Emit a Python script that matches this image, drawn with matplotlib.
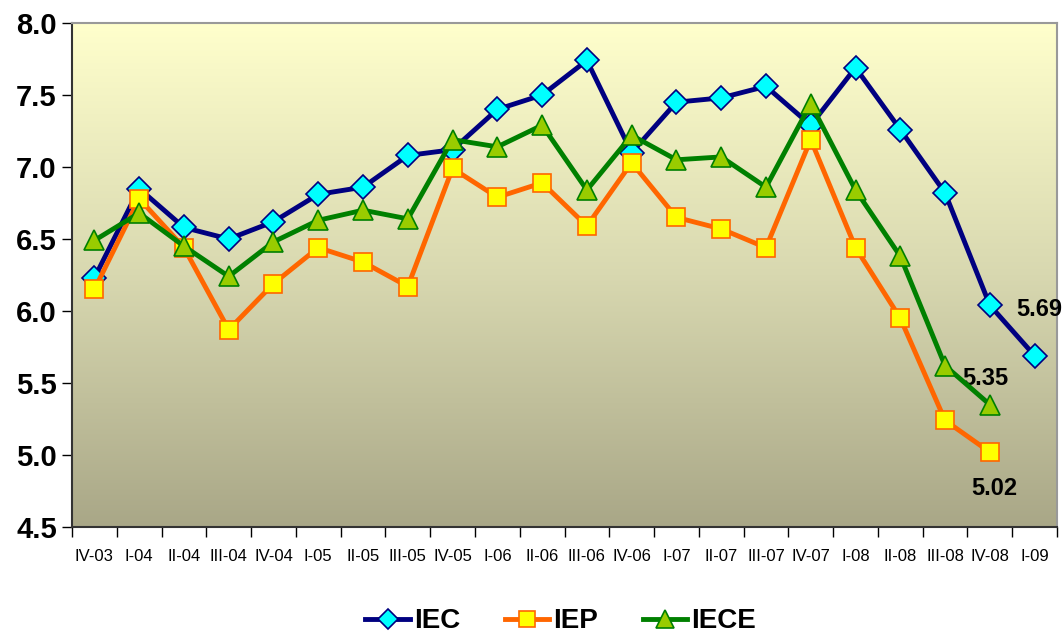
import numpy as np
import matplotlib.pyplot as plt
from matplotlib import font_manager
from matplotlib.colors import LinearSegmentedColormap

# quarters
quarters = ["IV-03", "I-04", "II-04", "III-04", "IV-04", "I-05", "II-05", "III-05",
            "IV-05", "I-06", "II-06", "III-06", "IV-06", "I-07", "II-07", "III-07",
            "IV-07", "I-08", "II-08", "III-08", "IV-08", "I-09"]

iec = [6.23, 6.85, 6.58, 6.50, 6.62, 6.81, 6.86, 7.08, 7.12, 7.40, 7.50, 7.74,
       7.10, 7.45, 7.48, 7.56, 7.29, 7.69, 7.26, 6.82, 6.04, 5.69]
iep = [6.15, 6.78, 6.44, 5.87, 6.19, 6.44, 6.34, 6.17, 6.99, 6.79, 6.89, 6.59,
       7.03, 6.65, 6.57, 6.44, 7.19, 6.44, 5.95, 5.24, 5.02]
iece = [6.49, 6.68, 6.45, 6.24, 6.48, 6.63, 6.70, 6.64, 7.19, 7.14, 7.29, 6.84,
        7.22, 7.05, 7.07, 6.86, 7.44, 6.84, 6.38, 5.62, 5.35]

names = [f.name for f in font_manager.fontManager.ttflist]
narrow = "Liberation Sans Narrow" if "Liberation Sans Narrow" in names else "Liberation Sans"
plt.rcParams['font.family'] = [narrow, 'DejaVu Sans']

fig = plt.figure(figsize=(10.64, 6.37), dpi=100)
ax = fig.add_axes([0.0677, 0.1727, 0.9257, 0.7912])

n = len(quarters)
x = np.arange(n)

# gradient background
cmap = LinearSegmentedColormap.from_list("bg", ["#a9a787", "#d8d8b0", "#ffffcc"])
grad = np.linspace(0, 1, 256).reshape(-1, 1)
ax.imshow(grad, cmap=cmap, aspect='auto', origin='lower',
          extent=(-0.5, n - 0.5, 4.5, 8.0), zorder=0)

ax.plot(x[:len(iec)], iec, color="#000080", lw=3.5, marker="D", ms=12,
        mfc="#00ffff", mec="#000080", mew=1.2, label="IEC", zorder=3)
ax.plot(x[:len(iep)], iep, color="#ff6600", lw=3.5, marker="s", ms=13,
        mfc="#ffff00", mec="#ff6600", mew=1.2, label="IEP", zorder=4)
ax.plot(x[:len(iece)], iece, color="#008000", lw=3.5, marker="^", ms=15,
        mfc="#99cc00", mec="#008000", mew=1.2, label="IECE", zorder=5)

lab = dict(fontsize=17, fontweight="bold", color="black", ha="center", va="center")
ax.text(len(iec) - 1 + 0.1, iec[-1] + 0.32, f"{iec[-1]:.2f}", **lab)
ax.text(len(iece) - 1 - 0.1, iece[-1] + 0.18, f"{iece[-1]:.2f}", **lab)
ax.text(len(iep) - 1 + 0.1, iep[-1] - 0.25, f"{iep[-1]:.2f}", **lab)

ax.set_xlim(-0.5, n - 0.5)
ax.set_ylim(4.5, 8.0)
ax.set_yticks(np.arange(4.5, 8.01, 0.5))
ax.set_yticklabels([f"{v:.1f}" for v in np.arange(4.5, 8.01, 0.5)],
                   fontsize=21, fontweight="bold")
ax.set_xticks(x)
ax.set_xticklabels(quarters, fontsize=12)
ax.set_xticks(np.arange(-0.5, n, 1), minor=True)
ax.tick_params(axis='x', which='major', length=0, pad=16)
ax.tick_params(axis='x', which='minor', length=7, width=1, direction='out')
ax.tick_params(axis='y', length=7, width=1, direction='out', pad=4)

for s in ["top", "right"]:
    ax.spines[s].set_color("#999999")
    ax.spines[s].set_linewidth(1.5)
for s in ["left", "bottom"]:
    ax.spines[s].set_color("#333333")
    ax.spines[s].set_linewidth(1.5)

fig.legend(loc="lower center", bbox_to_anchor=(0.527, -0.035), ncol=3, frameon=False,
           prop={"size": 20, "weight": "bold"}, handlelength=1.6, columnspacing=1.6,
           handletextpad=0.15, markerscale=0.85)

fig.savefig("out.png", dpi=100)
